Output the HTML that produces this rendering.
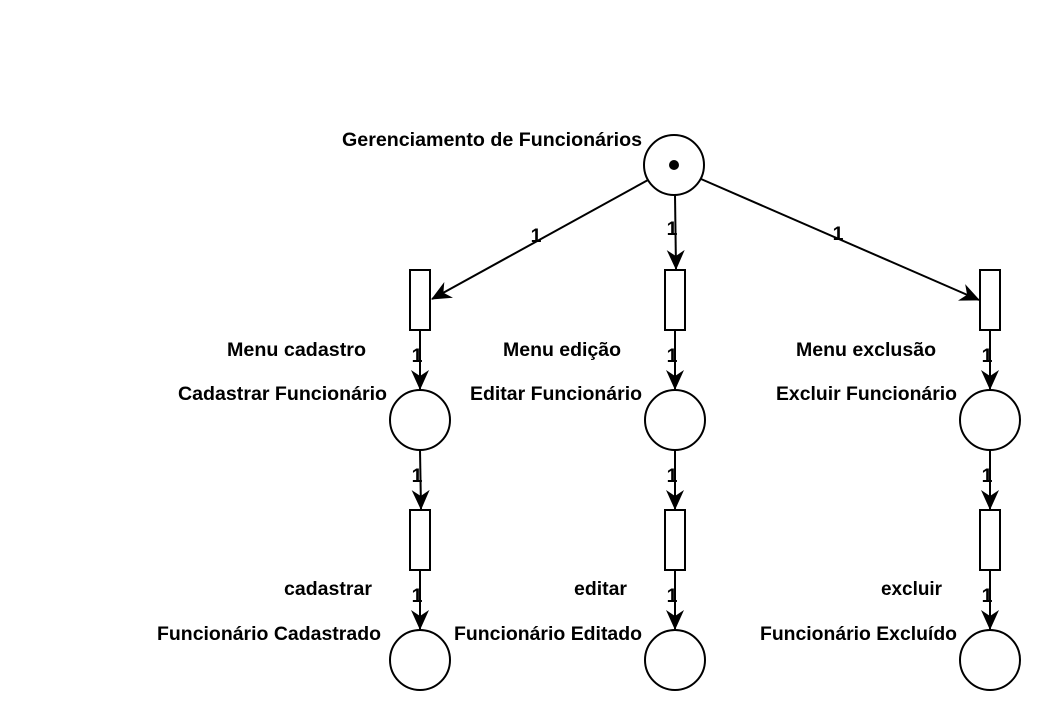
<!DOCTYPE html>
<html><head><meta charset="utf-8"><style>
html,body{margin:0;padding:0;background:#fff}
text{font-family:"Liberation Sans",Arial,sans-serif;font-weight:bold;font-size:19.5px;fill:#000}
</style></head><body>
<svg width="1045" height="715" viewBox="0 0 1045 715" xmlns="http://www.w3.org/2000/svg">
<defs>
<marker id="a" markerWidth="24" markerHeight="24" refX="19" refY="9" orient="auto" markerUnits="userSpaceOnUse">
<path d="M0,0 L20,9 L0,18 L6,9 z" fill="#000"/>
</marker>
</defs>
<g stroke="#000" stroke-width="2" fill="none">
<circle cx="674" cy="165" r="30" fill="#fff"/>
<line x1="648" y1="180" x2="432" y2="299" marker-end="url(#a)"/>
<line x1="675" y1="195" x2="676" y2="269" marker-end="url(#a)"/>
<line x1="701" y1="179" x2="979" y2="300" marker-end="url(#a)"/>
<rect x="410" y="270" width="20" height="60" fill="#fff"/>
<rect x="665" y="270" width="20" height="60" fill="#fff"/>
<rect x="980" y="270" width="20" height="60" fill="#fff"/>
<line x1="420" y1="330" x2="420" y2="389" marker-end="url(#a)"/>
<line x1="675" y1="330" x2="675" y2="389" marker-end="url(#a)"/>
<line x1="990" y1="330" x2="990" y2="389" marker-end="url(#a)"/>
<circle cx="420" cy="420" r="30"/>
<circle cx="675" cy="420" r="30"/>
<circle cx="990" cy="420" r="30"/>
<line x1="420" y1="450" x2="421" y2="509" marker-end="url(#a)"/>
<line x1="675" y1="450" x2="675" y2="509" marker-end="url(#a)"/>
<line x1="990" y1="450" x2="990" y2="509" marker-end="url(#a)"/>
<rect x="410" y="510" width="20" height="60" fill="#fff"/>
<rect x="665" y="510" width="20" height="60" fill="#fff"/>
<rect x="980" y="510" width="20" height="60" fill="#fff"/>
<line x1="420" y1="570" x2="420" y2="629" marker-end="url(#a)"/>
<line x1="675" y1="570" x2="675" y2="629" marker-end="url(#a)"/>
<line x1="990" y1="570" x2="990" y2="629" marker-end="url(#a)"/>
<circle cx="420" cy="660" r="30"/>
<circle cx="675" cy="660" r="30"/>
<circle cx="990" cy="660" r="30"/>
</g>
<circle cx="674" cy="165" r="5" fill="#000"/>
<g text-anchor="end">
<text x="642" y="146" textLength="300" lengthAdjust="spacingAndGlyphs">Gerenciamento de Funcionários</text>
<text x="366" y="356" textLength="139" lengthAdjust="spacingAndGlyphs">Menu cadastro</text>
<text x="387" y="400" textLength="209" lengthAdjust="spacingAndGlyphs">Cadastrar Funcionário</text>
<text x="372" y="595" textLength="88" lengthAdjust="spacingAndGlyphs">cadastrar</text>
<text x="381" y="640" textLength="224" lengthAdjust="spacingAndGlyphs">Funcionário Cadastrado</text>
<text x="621" y="356" textLength="118" lengthAdjust="spacingAndGlyphs">Menu edição</text>
<text x="642" y="400" textLength="172" lengthAdjust="spacingAndGlyphs">Editar Funcionário</text>
<text x="627" y="595" textLength="53" lengthAdjust="spacingAndGlyphs">editar</text>
<text x="642" y="640" textLength="188" lengthAdjust="spacingAndGlyphs">Funcionário Editado</text>
<text x="936" y="356" textLength="140" lengthAdjust="spacingAndGlyphs">Menu exclusão</text>
<text x="957" y="400" textLength="181" lengthAdjust="spacingAndGlyphs">Excluir Funcionário</text>
<text x="942" y="595" textLength="61" lengthAdjust="spacingAndGlyphs">excluir</text>
<text x="957" y="640" textLength="197" lengthAdjust="spacingAndGlyphs">Funcionário Excluído</text>
</g>
<g text-anchor="middle" style="font-size:19px">
<text x="536" y="242">1</text>
<text x="672" y="235">1</text>
<text x="838" y="240">1</text>
<text x="417" y="362">1</text>
<text x="672" y="362">1</text>
<text x="987" y="362">1</text>
<text x="417" y="482">1</text>
<text x="672" y="482">1</text>
<text x="987" y="482">1</text>
<text x="417" y="602">1</text>
<text x="672" y="602">1</text>
<text x="987" y="602">1</text>
</g>
</svg>
</body></html>
